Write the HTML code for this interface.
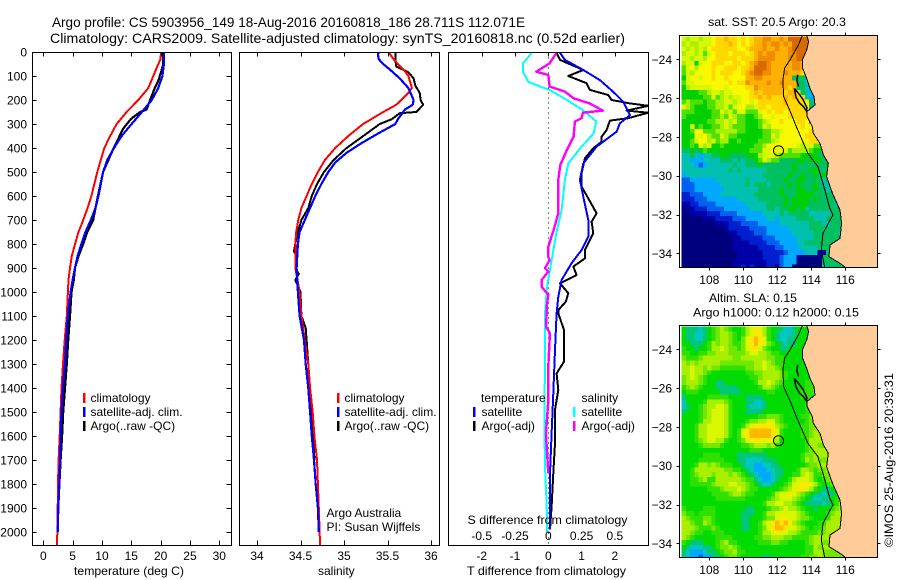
<!DOCTYPE html>
<html>
<head>
<meta charset="utf-8">
<title>Argo profile</title>
<style>
html,body{margin:0;padding:0;background:#fff;}
svg{display:block;font-family:"Liberation Sans",sans-serif;font-size:12px;fill:#000;}
text{fill:#000;}
</style>
</head>
<body>
<svg id="fig" width="900" height="580" viewBox="0 0 900 580" xmlns="http://www.w3.org/2000/svg">
<defs>
<clipPath id="c1"><rect x="33" y="52" width="198" height="493"/></clipPath>
<clipPath id="c2"><rect x="240" y="52" width="199" height="493"/></clipPath>
<clipPath id="c3"><rect x="449" y="52" width="199" height="493"/></clipPath>
<clipPath id="m1"><rect x="680" y="35" width="198" height="232"/></clipPath>
<clipPath id="m2"><rect x="680" y="325" width="198" height="232"/></clipPath>
</defs>
<rect width="900" height="580" fill="#fff"/>
<text x="52" y="27" font-size="14" textLength="473" lengthAdjust="spacingAndGlyphs">Argo profile: CS 5903956_149 18-Aug-2016 20160818_186 28.711S 112.071E</text>
<text x="50" y="43" font-size="14" textLength="575" lengthAdjust="spacingAndGlyphs">Climatology: CARS2009. Satellite-adjusted climatology: synTS_20160818.nc (0.52d earlier)</text>
<g id="plots"></g>
<g id="maps"></g>
<g id="labels">
<text x="74" y="575" textLength="110" lengthAdjust="spacingAndGlyphs">temperature (deg C)</text>
<text x="318" y="575">salinity</text>
<text x="467" y="575" textLength="159" lengthAdjust="spacingAndGlyphs">T difference from climatology</text>
<text x="467.500" y="524" textLength="160" lengthAdjust="spacingAndGlyphs">S difference from climatology</text>
<text x="90.500" y="402">climatology</text>
<text x="90.500" y="416">satellite-adj. clim.</text>
<text x="90.500" y="430">Argo(..raw -QC)</text>
<text x="344.500" y="402">climatology</text>
<text x="344.500" y="416">satellite-adj. clim.</text>
<text x="344.500" y="430">Argo(..raw -QC)</text>
<text x="326.500" y="517">Argo Australia</text>
<text x="326.500" y="531">PI: Susan Wijffels</text>
<text x="481" y="402">temperature</text>
<text x="481.500" y="416">satellite</text>
<text x="481.500" y="430">Argo(-adj)</text>
<text x="581.500" y="402">salinity</text>
<text x="581.500" y="416">satellite</text>
<text x="581.500" y="430">Argo(-adj)</text>
<rect x="83" y="393" width="2.500" height="10" fill="#ff0000"/>
<rect x="83" y="407" width="2.500" height="10" fill="#0000ff"/>
<rect x="83" y="421" width="2.500" height="10" fill="#000"/>
<rect x="337" y="393" width="2.500" height="10" fill="#ff0000"/>
<rect x="337" y="407" width="2.500" height="10" fill="#0000ff"/>
<rect x="337" y="421" width="2.500" height="10" fill="#000"/>
<rect x="473" y="407" width="2.500" height="10" fill="#0000ff"/>
<rect x="473" y="421" width="2.500" height="10" fill="#000"/>
<rect x="573" y="407" width="2.500" height="10" fill="#00ffff"/>
<rect x="573" y="421" width="2.500" height="10" fill="#ff00ff"/>
<text x="708" y="26" textLength="138" lengthAdjust="spacingAndGlyphs">sat. SST: 20.5 Argo: 20.3</text>
<text x="709" y="302" textLength="88" lengthAdjust="spacingAndGlyphs">Altim. SLA: 0.15</text>
<text x="693" y="316.500" textLength="166" lengthAdjust="spacingAndGlyphs">Argo h1000: 0.12 h2000: 0.15</text>
<text transform="translate(893,547) rotate(-90)" textLength="174" lengthAdjust="spacingAndGlyphs">©IMOS 25-Aug-2016 20:39:31</text>
</g>
</svg>
<script>
// ---- Temperature profile data (deg C) ----
const tempClimDepth = [0,30,50,100,150,200,250,300,350,400,450,500,550,600,650,700,750,800,850,900,950,1000,1100,1200,1300,1400,1500,1600,1700,1800,1900,2000,2055];
const tempClim = [20.05,20,19.6,18.75,17.9,16.2,14.2,12.5,11.4,10.4,9.8,9.2,8.7,8.2,7.55,6.8,6,5.4,4.85,4.55,4.3,4.2,4,3.65,3.35,3.1,2.95,2.8,2.6,2.5,2.45,2.4,2.3];
const tempSatDepth = [0,50,100,150,200,250,300,350,400,450,500,550,600,650,700,750,800,850,900,950,1000,1100,1200,1300,1400,1500,1600,1700,1800,1900,2000];
const tempSat = [20.55,20.55,20.3,19.6,18.5,16.8,15.05,13.35,12.05,10.9,10.2,9.8,9.4,8.9,8.1,7.2,6.5,5.85,5.4,5,4.65,4.2,3.9,3.7,3.35,3.1,2.95,2.85,2.75,2.55,2.45];
const tempArgoDepth = [0,50,90,120,150,200,240,250,280,320,350,400,500,600,650,700,750,800,850,900,950,1000,1100,1200,1300,1400,1500,1600,1700,1800,1900,2000];
const tempArgo = [20.45,20.45,20,19.6,19,18.2,17.6,16.5,14.9,13.6,13,12,10.2,9.3,8.9,8.5,7.5,6.8,6,5.4,5.2,4.8,4.55,4.25,4,3.7,3.4,3.2,2.95,2.75,2.5,2.45];
// ---- Salinity profile data ----
const salClimDepth = [0,30,50,80,100,150,170,200,220,250,300,350,400,450,500,550,600,650,700,750,800,900,1000,1100,1200,1300,1400,1500,1600,1700,1800,1900,2000,2055];
const salClim = [35.51,35.57,35.62,35.7,35.74,35.78,35.74,35.66,35.6,35.45,35.22,35.05,34.9,34.78,34.7,34.63,34.57,34.51,34.475,34.45,34.44,34.44,34.49,34.51,34.55,34.59,34.61,34.64,34.66,34.69,34.7,34.71,34.72,34.725];
const salSatDepth = [0,10,30,50,80,110,150,200,220,240,280,300,340,380,420,460,500,550,600,650,700,750,800,900,1000,1100,1200,1300,1400,1500,1600,1700,1800,1900,2000];
const salSat = [35.4,35.39,35.4,35.45,35.55,35.64,35.74,35.8,35.79,35.7,35.62,35.59,35.39,35.2,35.03,34.9,34.82,34.74,34.67,34.61,34.55,34.49,34.47,34.455,34.47,34.49,34.54,34.56,34.59,34.61,34.63,34.655,34.675,34.7,34.71];
const salArgoDepth = [0,30,60,85,110,140,170,200,220,250,255,280,300,340,400,450,500,550,600,650,700,750,800,830,850,900,925,950,1000,1100,1150,1200,1300,1400,1500,1600,1700];
const salArgo = [35.59,35.59,35.6,35.74,35.8,35.82,35.87,35.88,35.91,35.83,35.64,35.55,35.41,35.26,35.03,34.88,34.77,34.69,34.63,34.59,34.51,34.47,34.44,34.425,34.45,34.44,34.48,34.44,34.5,34.51,34.56,34.57,34.59,34.59,34.63,34.65,34.66];
// ---- Difference data ----
const diffTSatDepth = [3,33,75,117,166,207,263,297,332,394,464,533,603,700,769,825,880,950,1020,1089,1241,1422,1589,1755,1990];
const diffTSat = [0.35,0.5,1.05,1.55,1.95,2.25,2.45,2.15,2.05,1.45,1.05,0.95,1.05,1.2,1.2,1,0.7,0.4,0.3,0.25,0.2,0.15,0.1,0.05,0.05];
const diffTArgoDepth = [3,33,75,100,130,158,179,200,214,224,244,253,276,286,325,353,374,401,443,505,561,610,672,707,755,825,860,894,929,964,1005,1040,1075,1089,1158,1214,1290,1339,1408,1491,1630,1755,1894,1990];
const diffTArgo = [0.25,0.35,1.05,0.6,1.15,1.25,1.8,1.9,2.45,3,2.35,3,2.4,1.85,1.75,1.6,1.6,1.35,1.1,1,1,1.2,1.45,1.3,1.35,1.1,1.1,0.75,0.85,0.35,0.6,0.53,0.3,0.3,0.47,0.47,0.47,0.25,0.3,0.2,0.2,0.15,0.1,0.05];
const diffSSatDepth = [5,47,82,124,144,158,200,242,290,339,401,464,533,658,756,868,979,1089,1172,1311,1519,1727,1894,2000];
const diffSSat = [-0.125,-0.19,-0.19,-0.15,-0.06,0.01,0.14,0.26,0.36,0.34,0.24,0.15,0.125,0.1,0.06,0.025,-0.01,-0.025,-0.025,-0.025,-0.03,-0.025,-0.012,-0.008];
const diffSArgoDepth = [5,47,82,96,144,165,193,214,244,253,276,290,353,408,471,533,672,742,811,853,867,901,915,950,978,1012,1061,1089,1144,1172,1311,1450,1589,1644,1755];
const diffSArgo = [0.06,0.01,-0.09,0,0.01,0.125,0.19,0.31,0.41,0.26,0.25,0.2,0.19,0.14,0.09,0.075,0.075,0.04,0,0,0.01,-0.025,0,-0.05,-0.05,0,-0.012,-0.012,-0.017,0.012,0,0,-0.017,-0.012,0];
// ---- Tick labels ----
const depthTicks = [0,100,200,300,400,500,600,700,800,900,1000,1100,1200,1300,1400,1500,1600,1700,1800,1900,2000];
const tempTicks = [0,5,10,15,20,25,30];
const salTicks = [34,34.5,35,35.5,36];
const diffTTicks = [-2,-1,0,1,2];
const diffSTicks = [-0.5,-0.25,0,0.25,0.5];
const lonTicks = [108,110,112,114,116];
const latTicks = [-24,-26,-28,-30,-32,-34];
// ---- Map data: one character per 0.25 degree cell, level index into the colour scale ----
const mapLevels = ['#00007f','#0000a8','#0020d0','#0060f0','#00a8ff','#00c0b0','#00c060','#00d000','#50e000','#a8f000','#d8f800','#f8f800','#ffd800','#ffb000','#f08c00','#d86800'];
const slaLevels = ['#00007f','#0000a8','#0020d0','#0060f0','#00a8ff','#00c8c0','#00c878','#00dc00','#30e000','#70e800','#a8f000','#d8f800','#ffe800','#ffb800','#f08c00','#d86800'];
const sstGrid = [
"a9aa9aabccdccbcbcddeeddedffffffd",
"9a99aaabcccdcbcbcddedeededfffffe",
"a9a9a9bccccccbbcdddeddeddeffffd",
"9aa9a8abcccbcccbcdedeedddeefffe",
"aa9aa9bbcccccbcccdeeeedddeeffe",
"9aa7abbcccbbccbcdeffedddddeedc",
"8ab9bbbcbbcccbccdfffedddddeedcb",
"8a9bbbbcbcccbbcdeffeedddedddcb",
"7abbabbcbbcbbbbddeeddddddd6665",
"8aabbbbbbbbcbcceddddeddeddd66554",
"79aaaaabbbabbbbccedddddddcd66544",
"7777889aa9aabbbbcdcdddddcddc65444",
"7777788a89a9aabbccdcdcccdcdcc54434",
"8988878899aa9abbabccccccdccccb643424",
"a987778899a8abb99accbccccccccb6434223",
"888777788a9a8aa888abcbccbccccc6343212",
"87777778898a9887789bbabbbccccc5434212",
"7777778899a9a8877789abbcbbbccb4322277",
"77a7877889a98887778a9bbbbbbbcbb776677",
"778bb888999998877778899abbbbbbcb77777",
"777bab988a98877777788a9bbbbbbccbb7777",
"778abb9a89977877778889abbbbbbbccb7777",
"7787a9a7787777777889bbbbbbba9aa887777",
"6676787777777777888aababa899998776677",
"5565455667766667779aaa98888877776677",
"5544455556665656678a9886666776777667",
"55543455555565566676666666766666667",
"5555555555565655555566666676667766677",
"4555555555555555555666666766766767677",
"3344444455555556555566667667766665677",
"33344444455555565666566667676667655677",
"33344444445555555566666766677667665667",
"2233344445555555566666676667777666667",
"2223334444444555556666667677776766665677",
"1122333344444445555566667677776666665677",
"0112223333444444555566566776756666666667",
"0011112223333444444555565666665555566677",
"0000011122223334444455455556666555666677",
"0000000011122233334444455555556665566677",
"00000000001222223333444445555566666666",
"000000000001122223334444445555566666655",
"0000000000001122222333444445555666666333",
"000000000000111122223334444556666666633",
"000000000000111111222233444455556666222",
"00000000000001111112222234444555116666",
"00000000000001111112222344410000066",
"00000000000011111111222344400000066",
"00000000000011212111220344000000056"
];
const slaGrid = [
"766656789a98778abcba87765567777",
"766556789aa9878abcca87655567777",
"766556789aa9879bcdcb87655667777",
"7766678a9aa9889bcdcb98765667777",
"8776778aaba9989bccb98776677777",
"88778899aaa9999abbaa98877777777",
"98889aaaaaaa99aaaaaa998877777",
"a9a9aaaaa99999999aaba98877777",
"aabaa9a9988888899aabaa9877777",
"aabaa98777777778899aaaa9877777",
"9aba987777777777889aaaa9877777",
"9aaa98776677777778aaba98777778",
"89a9877766666777778aa987777778",
"78887777766666777777887777778889",
"6777778888877776666777777777888a",
"577778aaaa9877766556777777777889a",
"567789aabba877765556777777777889",
"677789abbba877766667777777777889",
"777789abbba87777778899987777889",
"77778aabbba8777899aabb9877777899",
"7778aabbbba8778abccccca987778899",
"7778aabbbba878bcdddddcb87777889a",
"7778aabbbba878bcdddddcb87777889aa",
"77789abbaa87789bcccbcba7777778aaa",
"77778999987777889aaa9a87777778aa9",
"7777777777777777888777777777789aaa",
"7777788887777666666677777777899aa",
"77778888887776655556667777778a9a9",
"7778aa9a988877655445566777777899a",
"778aaaaaaa998876544455667778aa9899a",
"7789aaa9aaa9a987654445667788aba8899a",
"77889a88aaaaaa988654456778abbba8789aa",
"77888889aaabbaa98765567789bbccba87899a",
"7777778889aaaba9887777789abccba87667899a",
"777777788889aa98877778abbcba987665667899",
"7777777788888887777789abbba9876556678999",
"77777777777777777778aabbaa98766665678a9",
"87777888777777766777899abaa9877677789aa",
"98878888777777666778aabbbbba98777789aa",
"a988899877777766777899bccbba9987778aaa",
"aa988a9877777766778abcdcdca9877788aa",
"aaa98889877777667789bcddcbba987889aa",
"aa98877888777777778aabcbbaa9888899aa",
"a98777778888777778899aaa9988889aaa",
"8766677789a88777778889988777789aa9",
"76555667899a9877777777777777788a9a",
"654445667899a887777777777777788aa9",
"65443446678998777776677777778899a9"
];
const coastLon = [113.73,113.84,113.73,113.47,113.49,113.73,113.92,114.16,114.22,113.73,113.76,114.06,114.12,114.51,114.71,115,114.9,115.25,115.69,115.78,115.69,115.1,115.04,115.69,115.98];
const coastLat = [-22.75,-23.09,-23.52,-24.03,-24.46,-24.98,-25.49,-25.92,-26.35,-26.7,-26.96,-27.47,-27.81,-28.33,-28.93,-29.36,-30.05,-30.91,-31.77,-32.45,-33.23,-33.57,-34.17,-34.52,-34.7];
const isobathLon = [113.49,113.24,112.75,112.43,112.33,112.37,112.72,113.12,113.8,114.39,114.69,115.08,115.27,114.69,114.59,114.78];
const isobathLat = [-22.75,-23.26,-24.03,-24.46,-25.06,-25.92,-26.6,-27.47,-28.85,-29.53,-30.39,-31.67,-32.02,-32.97,-33.83,-34.7];
const islandLon = [113,113.1,113.3,113.55,113.7,113.75,113.5,113.2,113];
const islandLat = [-25.5,-25.95,-26.25,-26.45,-26.65,-26.5,-26.05,-25.7,-25.5];
const bayEdgeLon = [113.2,113.15,113.25];
const bayEdgeLat = [-24.8,-25.1,-25.4];
const argoLon = 112.071;
const argoLat = -28.711;

const NS = 'http://www.w3.org/2000/svg';
function mk(tag, attrs, parent){
  const el = document.createElementNS(NS, tag);
  for (const k in attrs) el.setAttribute(k, attrs[k]);
  parent.appendChild(el);
  return el;
}
const plots = document.getElementById('plots');
const maps = document.getElementById('maps');

// axis functions
const yDepth = d => 52 + d * 0.24;
const xTemp = t => 43.3 + t * 5.867;
const xSal = s => 257 + (s - 34) * 87;
const xDiffT = t => 548.3 + t * 33.3;
const xDiffS = s => 548.3 + s * 133.2;
const xLon = lon => 709.3 + (lon - 108) * 17;
const yLat = (lat, top) => top + 24.3 + (-24 - lat) * 19.4;

function line(parent, xs, ds, xf, color, clip, name, width){
  const pts = xs.map((v, i) => xf(v).toFixed(1) + ',' + yDepth(ds[i]).toFixed(1)).join(' ');
  const el = mk('polyline', {points: pts, fill: 'none', stroke: color, 'stroke-width': width || 2, 'clip-path': 'url(#' + clip + ')', 'stroke-linejoin': 'round', 'shape-rendering': 'crispEdges'}, parent);
  
  
}
function frame(parent, x, y, w, h, name){
  const el = mk('rect', {x: x, y: y, width: w, height: h, fill: 'none', stroke: '#000', 'stroke-width': 1, 'shape-rendering': 'crispEdges'}, parent);
  
  
}
function tick(parent, x1, y1, x2, y2){
  const el = mk('line', {x1: x1, y1: y1, x2: x2, y2: y2, stroke: '#000', 'stroke-width': 1, 'shape-rendering': 'crispEdges'}, parent);
  
  
}
function label(parent, x, y, str, anchor){
  const el = mk('text', {x: x, y: y, 'text-anchor': anchor}, parent);
  el.textContent = str;
  
  
}
const L1 = 32.5, R1 = 231.5, L2 = 239.5, R2 = 439.5, L3 = 448.5, R3 = 648.5, T = 52.5, B = 545.5;

// temperature panel
const g1 = mk('g', {}, plots);


line(g1, tempArgo, tempArgoDepth, xTemp, '#000', 'c1', 'temperature-argo-line', 2.2);
line(g1, tempClim, tempClimDepth, xTemp, '#ff0000', 'c1', 'temperature-climatology-line', 2);
line(g1, tempSat, tempSatDepth, xTemp, '#0000ff', 'c1', 'temperature-satellite-line', 2.2);
frame(g1, L1, T, R1 - L1, B - T, 'temperature-frame');
depthTicks.forEach(d => {
  const y = Math.round(yDepth(d)) + 0.5;
  if (d > 0) tick(g1, L1, y, L1 + 4, y);
  if (d > 0) tick(g1, R1, y, R1 - 5, y);
  label(g1, 27, yDepth(d) + 4.5, String(d), 'end');
});
tempTicks.forEach(t => {
  const x = Math.round(xTemp(t)) + 0.5;
  tick(g1, x, T, x, T + 4);
  tick(g1, x, B, x, B - 5);
  label(g1, xTemp(t), 560, String(t), 'middle');
});

// salinity panel
const g2 = mk('g', {}, plots);


line(g2, salArgo, salArgoDepth, xSal, '#000', 'c2', 'salinity-argo-line', 2);
line(g2, salClim, salClimDepth, xSal, '#ff0000', 'c2', 'salinity-climatology-line', 2);
line(g2, salSat, salSatDepth, xSal, '#0000ff', 'c2', 'salinity-satellite-line', 2.2);
frame(g2, L2, T, R2 - L2, B - T, 'salinity-frame');
salTicks.forEach(s => {
  const x = Math.round(xSal(s)) + 0.5;
  tick(g2, x, T, x, T + 4);
  tick(g2, x, B, x, B - 5);
  label(g2, xSal(s), 560, String(s), 'middle');
});

// difference panel
const g3 = mk('g', {}, plots);


const zero = mk('line', {x1: 548.5, y1: T, x2: 548.5, y2: B, stroke: '#000', 'stroke-width': 1, 'stroke-dasharray': '1 4', 'shape-rendering': 'crispEdges'}, g3);


line(g3, diffTArgo, diffTArgoDepth, xDiffT, '#000', 'c3', 'difference-t-argo-line', 2);
line(g3, diffTSat, diffTSatDepth, xDiffT, '#0000ff', 'c3', 'difference-t-satellite-line', 2);
line(g3, diffSSat, diffSSatDepth, xDiffS, '#00ffff', 'c3', 'difference-s-satellite-line', 2);
line(g3, diffSArgo, diffSArgoDepth, xDiffS, '#ff00ff', 'c3', 'difference-s-argo-line', 2.4);
frame(g3, L3, T, R3 - L3, B - T, 'difference-frame');
diffTTicks.forEach(t => {
  const x = Math.round(xDiffT(t)) + 0.5;
  tick(g3, x, T, x, T + 4);
  label(g3, xDiffT(t), 560, String(t), 'middle');
});
diffSTicks.forEach(s => {
  label(g3, xDiffS(s), 540, String(s), 'middle');
});

// maps
function drawMap(grid, levels, top, clip, name){
  const g = mk('g', {'clip-path': 'url(#' + clip + ')'}, maps);
  
  
  const lon0 = 106.375, lat0 = -22.83;
  const left = xLon(lon0), cw = 0.25 * 17, ch = 0.25 * 19.4, y0 = yLat(lat0, top);
  grid.forEach((row, r) => {
    for (let c = 0; c < 40; c++) {
      const ch0 = row.charAt(c) || row.charAt(row.length - 1);
      const cell = mk('rect', {x: (left + c * cw).toFixed(2), y: (y0 + r * ch).toFixed(2), width: (cw + 0.4).toFixed(2), height: (ch + 0.4).toFixed(2), fill: levels[parseInt(ch0, 16)], 'shape-rendering': 'crispEdges'}, g);
      
      
    }
  });
  const coastPts = coastLon.map((lo, i) => xLon(lo).toFixed(1) + ',' + yLat(coastLat[i], top).toFixed(1));
  const land = mk('polygon', {points: coastPts.join(' ') + ' 880,' + (top + 235) + ' 880,' + (top - 5), fill: '#ffcc99', stroke: 'none'}, g);
  
  
  const strip = mk('rect', {x: 680, y: top, width: 1.2, height: 232, fill: '#fff'}, g);
  
  
  const coast = mk('polyline', {points: coastPts.join(' '), fill: 'none', stroke: '#000', 'stroke-width': 1, 'shape-rendering': 'crispEdges'}, g);
  
  
  const iso = mk('polyline', {points: isobathLon.map((lo, i) => xLon(lo).toFixed(1) + ',' + yLat(isobathLat[i], top).toFixed(1)).join(' '), fill: 'none', stroke: '#000', 'stroke-width': 1, 'shape-rendering': 'crispEdges'}, g);
  
  
  const island = mk('polyline', {points: islandLon.map((lo, i) => xLon(lo).toFixed(1) + ',' + yLat(islandLat[i], top).toFixed(1)).join(' '), fill: 'none', stroke: '#000', 'stroke-width': 1.5}, g);
  
  
  const edge = mk('polyline', {points: bayEdgeLon.map((lo, i) => xLon(lo).toFixed(1) + ',' + yLat(bayEdgeLat[i], top).toFixed(1)).join(' '), fill: 'none', stroke: '#000', 'stroke-width': 1.5}, g);
  
  
  const pos = mk('circle', {cx: xLon(argoLon), cy: yLat(argoLat, top), r: 5, fill: 'none', stroke: '#000', 'stroke-width': 1}, g);
  
  
  frame(maps, 679.5, top + 0.5, 198, 232, name + '-frame');
  lonTicks.forEach(lo => {
    const x = Math.round(xLon(lo)) + 0.5;
    tick(maps, x, top + 0.5, x, top - 2.5);
    tick(maps, x, top + 232.5, x, top + 235.5);
    label(maps, xLon(lo), top + 249, String(lo), 'middle');
  });
  latTicks.forEach(la => {
    const y = Math.round(yLat(la, top)) + 0.5;
    tick(maps, 679.5, y, 676.5, y);
    tick(maps, 877.5, y, 880.5, y);
    label(maps, 672, yLat(la, top) + 4.5, '\u2212' + Math.abs(la), 'end');
  });
}
drawMap(sstGrid, mapLevels, 35, 'm1', 'sst-map');
drawMap(slaGrid, slaLevels, 325, 'm2', 'sla-map');
</script>
</body>
</html>
